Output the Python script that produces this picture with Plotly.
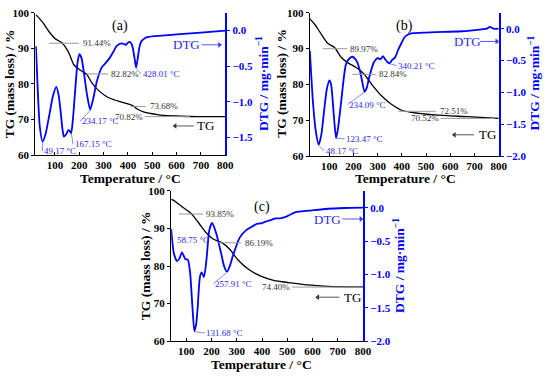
import plotly.graph_objects as go

# ---------------- data ----------------
# Panel (a)
a_tg_T = [23, 50, 77, 100, 130, 157, 178, 198, 215, 231, 252, 279, 319, 360, 400, 420, 440, 467, 494, 521, 548, 600, 683, 800]
a_tg_V = [99.4, 97.3, 94.6, 92.8, 91.5, 88.8, 85.4, 84.2, 83.4, 82.7, 80.3, 78.2, 76.2, 75.2, 74.4, 73.9, 72.9, 72.1, 71.7, 71.4, 71.2, 71.0, 70.85, 70.8]
a_dtg_T = [22, 29, 38, 49.5, 62, 77, 92, 106, 116, 124, 131, 137, 146, 155, 161, 167, 174, 184.5, 193, 200.7, 209, 218, 232, 245, 258, 272, 292, 310, 326, 340, 353, 373, 385, 393, 400, 407, 414, 420, 427, 433.5, 440, 447, 454, 461, 481, 540, 614, 700, 800]
a_dtg_V = [-0.22, -0.79, -1.35, -1.56, -1.45, -1.19, -0.92, -0.79, -0.92, -1.15, -1.38, -1.49, -1.46, -1.40, -1.41, -1.44, -1.25, -0.79, -0.45, -0.33, -0.38, -0.56, -0.90, -1.11, -0.95, -0.72, -0.52, -0.45, -0.38, -0.30, -0.22, -0.18, -0.19, -0.20, -0.17, -0.16, -0.18, -0.24, -0.38, -0.52, -0.40, -0.24, -0.16, -0.13, -0.09, -0.07, -0.05, -0.03, 0.0]

# Panel (b)
b_tg_T = [20, 40, 61, 94, 122, 149, 176, 210, 243, 277, 318, 358, 399, 440, 535, 670, 800]
b_tg_V = [98.3, 96.8, 94.7, 91.5, 90.3, 87.6, 86.1, 84.8, 83.0, 79.9, 76.7, 74.4, 72.8, 72.2, 71.5, 71.0, 70.55]
b_dtg_T = [20, 33, 45, 56.6, 68, 78, 90, 101, 108, 115, 122, 128.5, 137, 149, 169, 185, 196, 206, 216, 230, 246, 255, 264, 284, 300, 311, 322, 331, 340, 349, 360, 372, 385, 399, 412, 426, 446, 500, 575, 650, 730, 751, 764, 778, 800]
b_dtg_V = [-0.35, -1.16, -1.62, -1.82, -1.65, -1.32, -0.95, -0.81, -0.88, -1.16, -1.50, -1.72, -1.55, -1.16, -0.56, -0.46, -0.44, -0.47, -0.53, -0.71, -0.99, -0.93, -0.78, -0.53, -0.46, -0.48, -0.43, -0.48, -0.52, -0.545, -0.49, -0.45, -0.33, -0.22, -0.13, -0.09, -0.07, -0.06, -0.05, -0.04, -0.01, 0.0, 0.03, 0.0, 0.0]

# Panel (c)
c_tg_T = [40, 50, 83, 122, 150, 180, 206, 239, 270, 305, 345, 395, 446, 505, 596, 661, 800]
c_tg_V = [97.8, 97.5, 95.8, 93.8, 91.4, 88.8, 87.2, 86.3, 84.6, 81.6, 79.2, 77.3, 76.2, 75.6, 74.9, 74.6, 74.45]
c_dtg_T = [40, 50.5, 63, 73, 83, 96, 106, 115, 124.5, 132, 139, 145, 154, 161, 170, 180, 191, 202.5, 219, 239, 250, 261, 272, 284, 310, 336, 362, 382, 400, 421, 440, 453, 472, 499, 531, 600, 661, 730, 800]
c_dtg_V = [-0.32, -0.68, -0.80, -0.76, -0.67, -0.77, -0.78, -0.97, -1.50, -1.85, -1.75, -1.50, -1.04, -0.97, -1.04, -0.78, -0.34, -0.23, -0.39, -0.70, -0.88, -0.96, -0.88, -0.73, -0.46, -0.34, -0.28, -0.24, -0.23, -0.20, -0.18, -0.16, -0.16, -0.13, -0.07, -0.04, -0.016, -0.005, 0.0]

# TG percent labels: (value, leader T start, leader T end, text T, anchor)
a_pct = [(91.44, 77, 198, 206, "left"), (82.82, 231, 319, 323, "left"),
         (73.68, 412, 473, 481, "left"), (70.82, 469, 655, 471, "right")]
b_pct = [(89.97, 73, 174, 178, "left"), (82.84, 195, 292, 296, "left"),
         (72.51, 386, 540, 548, "left"), (70.52, 560, 784, 562, "right")]
c_pct = [(93.85, 70, 167, 172, "left"), (86.19, 226, 317, 323, "left"),
         (74.40, 519, 800, 518, "right")]

# DTG peak labels: (text, text T, text DTG, leader from (T, DTG))
a_peaks = [("49.17 °C", 47, -1.69, (50, -1.57)), ("167.15 °C", 173, -1.60, (168, -1.45)),
           ("234.17 °C", 202, -1.27, (246, -1.12)), ("428.01 °C", 452, -0.61, (434, -0.53))]
b_peaks = [("48.17 °C", 77, -1.92, (57, -1.83)), ("123.47 °C", 162, -1.73, (130, -1.72)),
           ("234.09 °C", 174, -1.19, (244, -1.0)), ("340.21 °C", 377, -0.58, (350, -0.55))]
c_peaks = [("58.75 °C", 54, -0.49, None), ("131.68 °C", 172, -1.88, (134, -1.86)),
           ("257.91 °C", 206, -1.14, (261, -0.97))]

SERIF = "Liberation Serif, Times New Roman, serif"
BLUE = "#0000ff"
TXTBLUE = "#2a2aee"
W, H = 550, 381

def fx(px):
    return px / W

def fy(py):
    return 1 - py / H

fig = go.Figure()

panels = [
    dict(x="x", y="y", y2="y2", tgT=a_tg_T, tgV=a_tg_V, dT=a_dtg_T, dV=a_dtg_V,
         pct=a_pct, peaks=a_peaks, lab="(a)", labpos=(366, 96.2),
         tgarrow=(594, 671, 68.2, 675), dtglab=(642, -0.20, 703, 776)),
    dict(x="x2", y="y3", y2="y4", tgT=b_tg_T, tgV=b_tg_V, dT=b_dtg_T, dV=b_dtg_V,
         pct=b_pct, peaks=b_peaks, lab="(b)", labpos=(412, 96.2),
         tgarrow=(617, 698, 65.95, 710), dtglab=(670, -0.20, 723, 792)),
    dict(x="x3", y="y5", y2="y6", tgT=c_tg_T, tgV=c_tg_V, dT=c_dtg_T, dV=c_dtg_V,
         pct=c_pct, peaks=c_peaks, lab="(c)", labpos=(398, 95.6),
         tgarrow=(621, 706, 71.7, 718), dtglab=(661, -0.17, 718, 792)),
]

annotations = []
shapes = []
for p in panels:
    fig.add_trace(go.Scatter(x=p["tgT"], y=p["tgV"], mode="lines", xaxis=p["x"], yaxis=p["y"],
                             line=dict(color="black", width=1.3, shape="spline", smoothing=0.8),
                             showlegend=False, hoverinfo="skip"))
    fig.add_trace(go.Scatter(x=p["dT"], y=p["dV"], mode="lines", xaxis=p["x"], yaxis=p["y2"],
                             line=dict(color=BLUE, width=1.8, shape="spline", smoothing=0.6),
                             showlegend=False, hoverinfo="skip"))
    for v, t0, t1, tt, anc in p["pct"]:
        shapes.append(dict(type="line", xref=p["x"], yref=p["y"], x0=t0, x1=t1, y0=v, y1=v,
                           line=dict(color="#999999", width=1)))
        annotations.append(dict(xref=p["x"], yref=p["y"], x=tt, y=v, text=f"{v:.2f}%",
                                showarrow=False, xanchor=anc, yanchor="middle",
                                font=dict(family=SERIF, size=9, color="#333333")))
    for txt, tt, dv, lead in p["peaks"]:
        annotations.append(dict(xref=p["x"], yref=p["y2"], x=tt, y=dv, text=txt,
                                showarrow=False, xanchor="left", yanchor="middle",
                                font=dict(family=SERIF, size=9, color=TXTBLUE)))
        if lead is not None:
            shapes.append(dict(type="line", xref=p["x"], yref=p["y2"], x0=lead[0], y0=lead[1],
                               x1=tt + 2, y1=dv, line=dict(color="#8888ff", width=1)))
    # panel label
    annotations.append(dict(xref=p["x"], yref=p["y"], x=p["labpos"][0], y=p["labpos"][1],
                            text=p["lab"], showarrow=False, xanchor="center", yanchor="middle",
                            font=dict(family=SERIF, size=14, color="black")))
    # TG arrow label (line + head marker)
    t0, t1, yv, tt = p["tgarrow"]
    shapes.append(dict(type="line", xref=p["x"], yref=p["y"], x0=t0, x1=t1, y0=yv, y1=yv,
                       line=dict(color="#555555", width=1)))
    fig.add_trace(go.Scatter(x=[t0], y=[yv], mode="markers", xaxis=p["x"], yaxis=p["y"],
                             marker=dict(symbol="triangle-left", size=5, color="#333333"),
                             showlegend=False, hoverinfo="skip"))
    annotations.append(dict(xref=p["x"], yref=p["y"], x=tt, y=yv, text="TG", showarrow=False,
                            xanchor="left", yanchor="middle",
                            font=dict(family=SERIF, size=13, color="black")))
    # DTG arrow label
    tc, dv, a0, a1 = p["dtglab"]
    annotations.append(dict(xref=p["x"], yref=p["y2"], x=tc, y=dv, text="DTG", showarrow=False,
                            xanchor="center", yanchor="middle",
                            font=dict(family=SERIF, size=13, color=TXTBLUE)))
    shapes.append(dict(type="line", xref=p["x"], yref=p["y2"], x0=a0, x1=a1, y0=dv, y1=dv,
                       line=dict(color="#5555ff", width=1)))
    fig.add_trace(go.Scatter(x=[a1], y=[dv], mode="markers", xaxis=p["x"], yaxis=p["y2"],
                             marker=dict(symbol="triangle-right", size=5, color="#3333ff"),
                             showlegend=False, hoverinfo="skip"))

# axis titles (as text annotations in paper coords)
title_font = dict(family=SERIF, size=13.5, color="black", weight="bold")
title_blue = dict(family=SERIF, size=13.5, color=BLUE, weight="bold")
for cx, cy in [(10, 80), (286, 80), (148, 268)]:
    annotations.append(dict(xref="paper", yref="paper", x=fx(cx), y=fy(cy), text="TG (mass loss) / %",
                            textangle=-90, showarrow=False, xanchor="center", yanchor="middle",
                            font=title_font))
for cx, cy in [(267, 80), (543, 80), (406, 268)]:
    annotations.append(dict(xref="paper", yref="paper", x=fx(cx), y=fy(cy),
                            text="DTG / mg·min<sup>−1</sup>",
                            textangle=-90, showarrow=False, xanchor="center", yanchor="middle",
                            font=title_blue))
for cx, cy in [(133, 178), (412, 178), (266, 370)]:
    annotations.append(dict(xref="paper", yref="paper", x=fx(cx), y=fy(cy), text="Temperature / °C",
                            showarrow=False, xanchor="center", yanchor="middle", font=title_font))

tickf = dict(family=SERIF, size=11, color="black", weight="bold")
tickb = dict(family=SERIF, size=11, color=BLUE, weight="bold")

def xax(dom, rng, anchor):
    return dict(domain=dom, range=rng, anchor=anchor, dtick=100, tick0=0, ticks="inside",
                ticklen=3, tickcolor="black", showline=True, linecolor="black", linewidth=1.3,
                showgrid=False, zeroline=False, tickfont=tickf)

def yax(dom, anchor):
    return dict(domain=dom, range=[60, 100], anchor=anchor, dtick=10, ticks="outside",
                ticklen=3, tickcolor="black", showline=True, linecolor="black", linewidth=1.3,
                showgrid=False, zeroline=False, tickfont=tickf)

def y2ax(over, anchor, rng):
    return dict(overlaying=over, anchor=anchor, side="right", range=rng, dtick=0.5, tick0=0,
                tickformat=".1f", ticks="outside", ticklen=3, tickcolor=BLUE, showline=True,
                linecolor=BLUE, linewidth=2, showgrid=False, zeroline=False, tickfont=tickb)

fig.update_layout(
    width=W, height=H, margin=dict(l=0, r=0, t=0, b=0),
    paper_bgcolor="white", plot_bgcolor="white",
    xaxis=xax([fx(36), fx(229)], [20, 800], "y"),
    yaxis=yax([fy(154), fy(7)], "x"),
    yaxis2=y2ax("y", "x", [-1.75, 0.25]),
    xaxis2=xax([fx(315), fx(507)], [20, 800], "y3"),
    yaxis3=yax([fy(155), fy(7)], "x2"),
    yaxis4=y2ax("y3", "x2", [-2.0, 0.25]),
    xaxis3=xax([fx(174), fx(369)], [40, 800], "y5"),
    yaxis5=yax([fy(346), fy(191)], "x3"),
    yaxis6=y2ax("y5", "x3", [-2.0, 0.25]),
    annotations=annotations, shapes=shapes,
)

fig.write_html("out.html", config={"displayModeBar": False},
               post_script="document.body.style.margin='0';document.body.style.overflow='hidden';")
